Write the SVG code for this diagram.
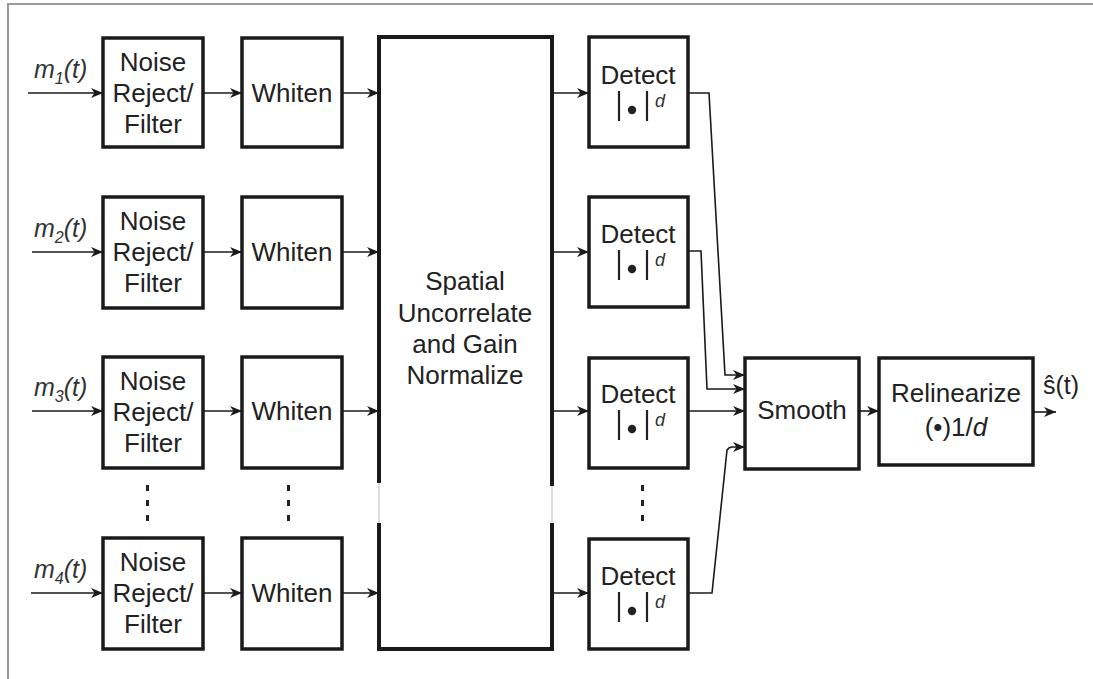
<svg xmlns="http://www.w3.org/2000/svg" width="1093" height="679" viewBox="0 0 1093 679">
<style>
.box{fill:#fff;stroke:#1a1a1a;stroke-width:3.5}
.t{font-family:"Liberation Sans",Arial,sans-serif;font-size:26px;fill:#222;text-anchor:middle}
.lab{font-family:"Liberation Sans",Arial,sans-serif;font-size:25px;font-style:italic;fill:#333}
.sub{font-size:16px}
.c{fill:none;stroke:#1a1a1a;stroke-width:1.6}
.bar{stroke:#222;stroke-width:2.2}
.dot{fill:#222}
.dl{font-family:"Liberation Sans",Arial,sans-serif;font-size:18px;font-style:italic;fill:#333}
</style>
<defs>
<marker id="ah" markerWidth="13" markerHeight="12" refX="12" refY="6" orient="auto" markerUnits="userSpaceOnUse">
<path d="M0,1 L12,6 L0,11 L3.5,6 z" fill="#1a1a1a"/>
</marker>
</defs>
<rect width="1093" height="679" fill="#fff"/>
<path d="M8,679 V4 H1093" fill="none" stroke="#999" stroke-width="2"/>

<g id="labels">
<text class="lab" x="34" y="78">m<tspan class="sub" dy="6">1</tspan><tspan dy="-6">(t)</tspan></text>
<text class="lab" x="34" y="237">m<tspan class="sub" dy="6">2</tspan><tspan dy="-6">(t)</tspan></text>
<text class="lab" x="34" y="396">m<tspan class="sub" dy="6">3</tspan><tspan dy="-6">(t)</tspan></text>
<text class="lab" x="34" y="578">m<tspan class="sub" dy="6">4</tspan><tspan dy="-6">(t)</tspan></text>
</g>

<g id="noise1"><rect class="box" x="103" y="38" width="100" height="109"/><text class="t" x="153" y="71">Noise</text><text class="t" x="153" y="102">Reject/</text><text class="t" x="153" y="133">Filter</text></g>
<g id="noise2"><rect class="box" x="103" y="197" width="100" height="111"/><text class="t" x="153" y="230">Noise</text><text class="t" x="153" y="261">Reject/</text><text class="t" x="153" y="292">Filter</text></g>
<g id="noise3"><rect class="box" x="103" y="357" width="100" height="111"/><text class="t" x="153" y="390">Noise</text><text class="t" x="153" y="421">Reject/</text><text class="t" x="153" y="452">Filter</text></g>
<g id="noise4"><rect class="box" x="103" y="538" width="100" height="111"/><text class="t" x="153" y="571">Noise</text><text class="t" x="153" y="602">Reject/</text><text class="t" x="153" y="633">Filter</text></g>

<g id="whiten1"><rect class="box" x="242" y="38" width="100" height="109"/><text class="t" x="292" y="102">Whiten</text></g>
<g id="whiten2"><rect class="box" x="242" y="197" width="100" height="111"/><text class="t" x="292" y="261">Whiten</text></g>
<g id="whiten3"><rect class="box" x="242" y="357" width="100" height="111"/><text class="t" x="292" y="420">Whiten</text></g>
<g id="whiten4"><rect class="box" x="242" y="538" width="100" height="111"/><text class="t" x="292" y="602">Whiten</text></g>

<g id="spatial">
<path d="M379,483 V37 H552 V486 M552,523 V649 H379 V523" fill="#fff" stroke="#1a1a1a" stroke-width="4"/>
<path d="M379,483 V523 M552,486 V523" stroke="#bbb" stroke-width="1" fill="none"/>
<text class="t" x="465" y="290">Spatial</text>
<text class="t" x="465" y="322">Uncorrelate</text>
<text class="t" x="465" y="353">and Gain</text>
<text class="t" x="465" y="384">Normalize</text>
</g>

<g id="detect1"><rect class="box" x="589" y="37" width="99" height="110"/><text class="t" x="638" y="84">Detect</text><line class="bar" x1="619" y1="91" x2="619" y2="121"/><line class="bar" x1="647" y1="91" x2="647" y2="121"/><circle class="dot" cx="632" cy="110" r="4.2"/><text class="dl" x="655" y="107">d</text></g>
<g id="detect2"><rect class="box" x="589" y="197" width="99" height="110"/><text class="t" x="638" y="243">Detect</text><line class="bar" x1="619" y1="250" x2="619" y2="280"/><line class="bar" x1="647" y1="250" x2="647" y2="280"/><circle class="dot" cx="632" cy="269" r="4.2"/><text class="dl" x="655" y="266">d</text></g>
<g id="detect3"><rect class="box" x="589" y="358" width="99" height="110"/><text class="t" x="638" y="403">Detect</text><line class="bar" x1="619" y1="410" x2="619" y2="440"/><line class="bar" x1="647" y1="410" x2="647" y2="440"/><circle class="dot" cx="632" cy="429" r="4.2"/><text class="dl" x="655" y="426">d</text></g>
<g id="detect4"><rect class="box" x="589" y="539" width="99" height="110"/><text class="t" x="638" y="585">Detect</text><line class="bar" x1="619" y1="592" x2="619" y2="622"/><line class="bar" x1="647" y1="592" x2="647" y2="622"/><circle class="dot" cx="632" cy="611" r="4.2"/><text class="dl" x="655" y="608">d</text></g>

<g id="smooth"><rect class="box" x="745" y="358" width="114" height="111"/><text class="t" x="802" y="419">Smooth</text></g>
<g id="relinearize"><rect class="box" x="879" y="358" width="154" height="107"/><text class="t" x="956" y="402">Relinearize</text><text class="t" x="956" y="436">(•)1/<tspan font-style="italic">d</tspan></text></g>
<g id="output"><text x="1043" y="394" font-family="'Liberation Sans',Arial,sans-serif" font-size="25" fill="#222">ŝ(t)</text></g>

<g id="ellipses" fill="#222">
<rect x="146" y="485" width="3" height="6"/><rect x="146" y="500" width="3" height="6"/><rect x="146" y="515" width="3" height="6"/>
<rect x="287" y="485" width="3" height="6"/><rect x="287" y="500" width="3" height="6"/><rect x="287" y="515" width="3" height="6"/>
<rect x="641" y="485" width="3" height="6"/><rect x="641" y="500" width="3" height="6"/><rect x="641" y="515" width="3" height="6"/>
</g>

<g id="connectors">
<line class="c" x1="28" y1="93" x2="103" y2="93" marker-end="url(#ah)"/>
<line class="c" x1="32" y1="252" x2="103" y2="252" marker-end="url(#ah)"/>
<line class="c" x1="32" y1="411" x2="103" y2="411" marker-end="url(#ah)"/>
<line class="c" x1="31" y1="593" x2="103" y2="593" marker-end="url(#ah)"/>
<line class="c" x1="203" y1="93" x2="242" y2="93" marker-end="url(#ah)"/>
<line class="c" x1="203" y1="252" x2="242" y2="252" marker-end="url(#ah)"/>
<line class="c" x1="203" y1="411" x2="242" y2="411" marker-end="url(#ah)"/>
<line class="c" x1="203" y1="593" x2="242" y2="593" marker-end="url(#ah)"/>
<line class="c" x1="342" y1="93" x2="379" y2="93" marker-end="url(#ah)"/>
<line class="c" x1="342" y1="252" x2="379" y2="252" marker-end="url(#ah)"/>
<line class="c" x1="342" y1="411" x2="379" y2="411" marker-end="url(#ah)"/>
<line class="c" x1="342" y1="593" x2="379" y2="593" marker-end="url(#ah)"/>
<line class="c" x1="552" y1="93" x2="589" y2="93" marker-end="url(#ah)"/>
<line class="c" x1="552" y1="252" x2="589" y2="252" marker-end="url(#ah)"/>
<line class="c" x1="552" y1="411" x2="589" y2="411" marker-end="url(#ah)"/>
<line class="c" x1="552" y1="593" x2="589" y2="593" marker-end="url(#ah)"/>
<path class="c" d="M688,93 H709 L725,375 H745" marker-end="url(#ah)"/>
<path class="c" d="M688,251 H701 L707,389 H745" marker-end="url(#ah)"/>
<line class="c" x1="688" y1="411" x2="745" y2="411" marker-end="url(#ah)"/>
<path class="c" d="M688,593 H712 L727,450 Q729,447 732,447 H745" marker-end="url(#ah)"/>
<line class="c" x1="859" y1="411" x2="879" y2="411" marker-end="url(#ah)"/>
<line class="c" x1="1033" y1="412" x2="1056" y2="412" marker-end="url(#ah)"/>
</g>
</svg>
